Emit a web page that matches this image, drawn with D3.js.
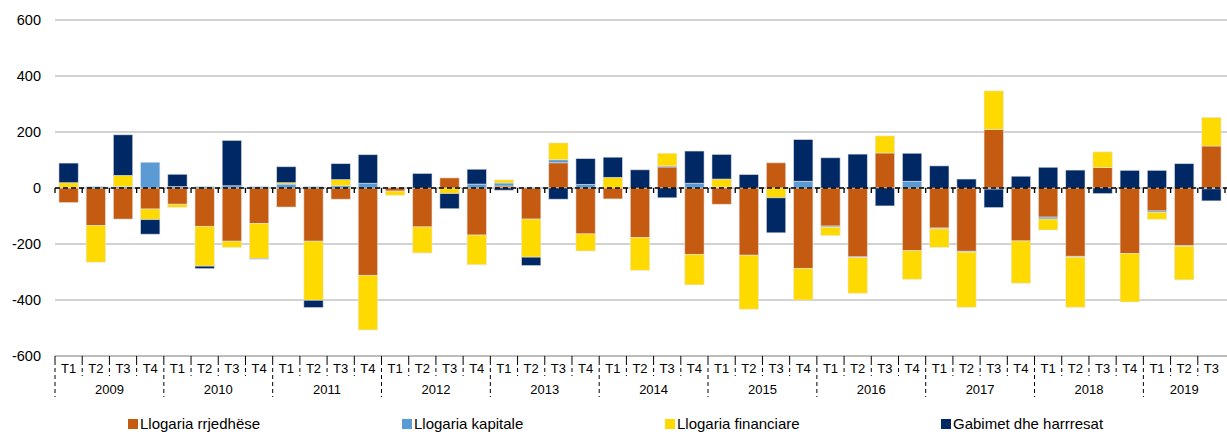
<!DOCTYPE html>
<html><head><meta charset="utf-8">
<script src="https://cdn.jsdelivr.net/npm/d3@7"></script>
<style>body{margin:0;background:#fff}svg{display:block;font-family:"Liberation Sans",Arial,sans-serif}</style>
</head><body><svg id="c" width="1227" height="434"></svg>
<script>
const years = ["2009","2010","2011","2012","2013","2014","2015","2016","2017","2018","2019"];
const quarters = ["T1","T2","T3","T4"];
const seriesNames = ["Llogaria rrjedhëse","Llogaria kapitale","Llogaria financiare","Gabimet dhe harrresat"];
const colors = ["#C55A11","#5B9BD5","#FFDA00","#002864"];
// values per quarter 2009T1 .. 2019T3
const currentAcc = [-52,-134,-111,-75, -58,-137,-190,-127, -68,-190,-40,-312, -11,-139,36,-168, 7,-111,90,-164, -39,-177,75,-237, -58,-240,90,-287, -136,-246,125,-224, -143,-226,209,-189, -104,-244,73,-234, -82,-206,150];
const capitalAcc = [2,5,5,92, 5,5,8,5, 14,5,8,17, 0,0,0,14, 11,3,11,13, 0,0,4,17, 3,0,0,24, -4,-3,0,24, -3,-3,-4,0, -7,-3,0,0, -5,-2,-3];
const financialAcc = [17,-131,40,-38, -11,-142,-22,-125, 5,-211,22,-195, -15,-93,-20,-106, 11,-136,60,-61, 38,-117,45,-109, 29,-193,-35,-113, -30,-127,61,-102, -66,-197,138,-151, -39,-179,56,-173, -25,-120,102];
const errorsOm = [70,0,145,-52, 44,-9,162,-2, 57,-26,57,102, 0,52,-54,53, -8,-30,-40,92, 72,65,-35,115, 88,48,-125,149, 108,121,-64,100, 79,32,-66,42, 74,64,-20,63, 63,87,-43];
const yTicks = [600,400,200,0,-200,-400,-600];

const cats = [];
years.forEach(y => quarters.forEach(q => { if (cats.length < currentAcc.length) cats.push({year:y, q:q}); }));
const data = cats.map((c,i) => ({key:i, s0:currentAcc[i], s1:capitalAcc[i], s2:financialAcc[i], s3:errorsOm[i]}));

const svg = d3.select("#c");
const L = 55, R = 1225, T = 20, B = 356;
const x = d3.scaleBand().domain(d3.range(cats.length)).range([L, R]).paddingInner(0.29).paddingOuter(0.145);
const xs = d3.scaleBand().domain(d3.range(cats.length)).range([L, R]);
const y = d3.scaleLinear().domain([-600,600]).range([B, T]);

// gridlines
svg.append("g").selectAll("line").data(yTicks).join("line")
  .attr("x1", L).attr("x2", 1227).attr("y1", d => y(d)).attr("y2", d => y(d))
  .attr("stroke", "#A6A6A6").attr("stroke-width", 1.2);
svg.append("g").selectAll("text").data(yTicks).join("text")
  .attr("x", 41).attr("y", d => y(d)).attr("dy", "0.35em").attr("text-anchor","end")
  .attr("font-size", 14.5).attr("fill","#000").text(d => d);

// stacks
const stack = d3.stack().keys(["s0","s1","s2","s3"]).offset(d3.stackOffsetDiverging);
const layers = stack(data);
svg.append("g").selectAll("g").data(layers).join("g")
  .attr("fill", (d,i) => colors[i])
  .selectAll("rect").data(d => d).join("rect")
  .attr("x", d => x(d.data.key)).attr("width", x.bandwidth())
  .attr("y", d => y(Math.max(d[0], d[1])))
  .attr("height", d => Math.abs(y(d[0]) - y(d[1])))
  .attr("stroke", "rgba(230,230,230,0.7)").attr("stroke-width", 0.8);

// zero line dashed with ticks
svg.append("line").attr("x1", L).attr("x2", 1227).attr("y1", y(0)).attr("y2", y(0))
  .attr("stroke","#000").attr("stroke-width",1.5).attr("stroke-dasharray","5,3");
svg.append("g").selectAll("line").data(d3.range(cats.length+1)).join("line")
  .attr("x1", i => L + i*xs.step()).attr("x2", i => L + i*xs.step())
  .attr("y1", y(0)).attr("y2", y(0)+5).attr("stroke","#000").attr("stroke-width",1.3);

// bottom axis
svg.append("line").attr("x1", L).attr("x2", 1227).attr("y1", B).attr("y2", B).attr("stroke","#A6A6A6").attr("stroke-width",1.2);
const ticksG = svg.append("g");
d3.range(cats.length).forEach(i => {
  const xx = L + i*xs.step();
  const yearStart = i % 4 === 0;
  ticksG.append("line").attr("x1", xx).attr("x2", xx).attr("y1", B).attr("y2", B+5).attr("stroke","#000").attr("stroke-width",1);
  ticksG.append("line").attr("x1", xx).attr("x2", xx).attr("y1", B+5).attr("y2", yearStart ? 397 : 376)
    .attr("stroke","#000").attr("stroke-width",1).attr("stroke-dasharray","4,3");
});
svg.append("g").selectAll("text").data(cats).join("text")
  .attr("x", (d,i) => xs(i) + xs.bandwidth()/2).attr("y", 368).attr("dy","0.35em")
  .attr("text-anchor","middle").attr("font-size", 13).text(d => d.q);
svg.append("g").selectAll("text").data(years).join("text")
  .attr("x", (d,i) => { const n = Math.min(4, cats.length - i*4); return L + (i*4 + n/2)*xs.step(); })
  .attr("y", 389).attr("dy","0.35em").attr("text-anchor","middle").attr("font-size", 13).text(d => d);

// legend
const legX = [128, 402, 665, 941];
const lg = svg.append("g").selectAll("g").data(seriesNames).join("g")
  .attr("transform", (d,i) => `translate(${legX[i]},424)`);
lg.append("rect").attr("x",0).attr("y",-5).attr("width",10).attr("height",10).attr("fill",(d,i)=>colors[i]);
lg.append("text").attr("x",12).attr("y",0).attr("dy","0.35em").attr("font-size",15).text(d=>d);
</script></body></html>
